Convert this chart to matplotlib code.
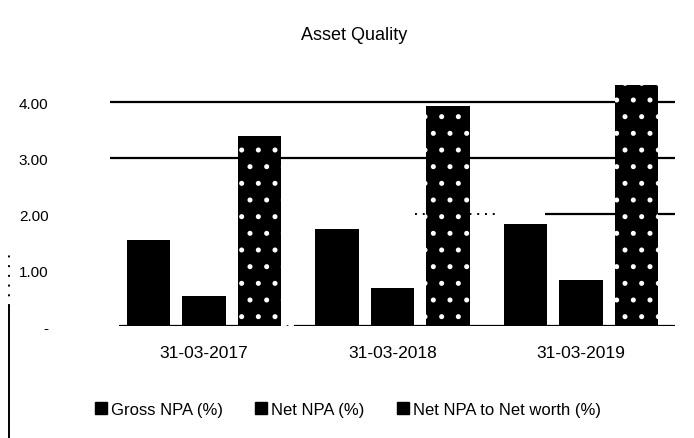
import numpy as np
import matplotlib
matplotlib.use("Agg")
import matplotlib.pyplot as plt
from matplotlib.lines import Line2D

# Asset quality values
dates = ['31-03-2017', '31-03-2018', '31-03-2019']
gross_npa = [1.54, 1.73, 1.82]
net_npa = [0.54, 0.68, 0.82]
net_npa_networth = [3.39, 3.93, 4.30]
series_names = ['Gross NPA (%)', 'Net NPA (%)', 'Net NPA to Net worth (%)']
ytick_vals = [0, 1, 2, 3, 4]
ytick_labels = ['-', '1.00', '2.00', '3.00', '4.00']

plt.rcParams['font.family'] = ['Liberation Sans', 'DejaVu Sans']
plt.rcParams['hatch.linewidth'] = 1.2

fig = plt.figure(figsize=(6.94, 4.39), dpi=100)
ax = fig.add_axes([0.158, 0.255, 0.815, 0.561])

x = np.arange(len(dates))
width = 0.23
step = 0.295

# gridlines (the scan only shows some of them)
ax.axhline(4, color='black', lw=1.6, zorder=1)
ax.axhline(3, color='black', lw=1.6, zorder=1)
ax.hlines(2, 1.12, 1.57, color='black', lw=1.4, linestyles=(0, (1, 3)), zorder=1)
ax.hlines(2, 1.81, 2.5, color='black', lw=1.6, zorder=1)
ax.hlines(0, -0.45, 0.35, color='black', lw=1.6, zorder=1)
ax.hlines(0, 0.35, 0.48, color='black', lw=1.2, linestyles=(0, (1, 4)), zorder=1)
ax.hlines(0, 0.48, 2.5, color='black', lw=1.6, zorder=1)

ax.bar(x - step, gross_npa, width, color='black', zorder=2)
ax.bar(x, net_npa, width, color='black', zorder=2)
ax.bar(x + step, net_npa_networth, width, color='black', edgecolor='white',
       hatch='.', linewidth=0, zorder=2)

ax.set_xlim(-0.5, 2.5)
ax.set_ylim(0, 4.4)
ax.set_xticks(x)
ax.set_xticklabels(dates, fontsize=12.5)
ax.set_yticks(ytick_vals)
ax.set_yticklabels(ytick_labels, fontsize=11)
ax.tick_params(axis='x', length=0, pad=14)
ax.tick_params(axis='y', length=0, pad=44)
for s in ax.spines.values():
    s.set_visible(False)

fig.text(0.51, 0.92, 'Asset Quality', ha='center', va='center', fontsize=13)

handles = [Line2D([], [], marker='s', color='black', linestyle='none', markersize=8)
           for _ in series_names]
fig.legend(handles, series_names, loc='center', bbox_to_anchor=(0.5, 0.065),
           ncol=3, frameon=False, fontsize=12, handletextpad=0.1,
           columnspacing=1.8, handlelength=1.0)

# left border fragment visible in the scan
fig.add_artist(Line2D([0.013, 0.013], [0.0, 0.30], color='black', lw=1.4,
                      transform=fig.transFigure))
fig.add_artist(Line2D([0.013, 0.013], [0.30, 0.42], color='black', lw=1.4,
                      linestyle=(0, (1, 4)), transform=fig.transFigure))

fig.savefig('out.png', dpi=100)
